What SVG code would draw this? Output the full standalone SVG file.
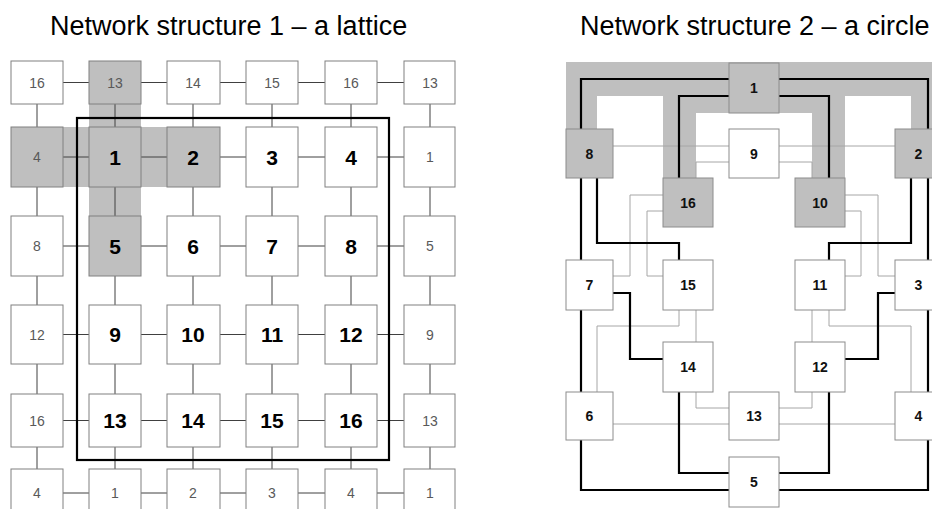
<svg xmlns="http://www.w3.org/2000/svg" width="932" height="509" viewBox="0 0 932 509">
<style>
.title{font-family:"Liberation Sans",Arial,sans-serif;font-size:27px;fill:#000}
.lb{fill:#fff;stroke:#808080;stroke-width:1}
.lg{fill:#bfbfbf;stroke:#808080;stroke-width:1}
.lo{font-family:"Liberation Sans",Arial,sans-serif;font-size:14px;fill:#595959;text-anchor:middle}
.li{font-family:"Liberation Sans",Arial,sans-serif;font-size:21px;font-weight:bold;fill:#000;text-anchor:middle}
.lc{stroke:#404040;stroke-width:1;fill:none}
.rb{fill:#fff;stroke:#8c8c8c;stroke-width:1}
.rg{fill:#bfbfbf;stroke:#8c8c8c;stroke-width:1}
.rt{font-family:"Liberation Sans",Arial,sans-serif;font-size:14px;font-weight:bold;fill:#111;text-anchor:middle}
.thick{stroke:#000;stroke-width:2.2;fill:none}
.thin{stroke:#a6a6a6;stroke-width:1;fill:none}
.band{fill:#bfbfbf}
</style>
<rect width="932" height="509" fill="#fff"/>
<text class="title" x="50" y="35">Network structure 1 – a lattice</text>
<text class="title" x="580" y="35">Network structure 2 – a circle</text>

<!-- Lattice highlight -->
<g id="lattice-highlight">
<rect class="band" x="89" y="61" width="52" height="215"/>
<rect class="band" x="11" y="127" width="209" height="60"/>
</g>

<!-- Lattice connectors -->
<g id="lattice-connectors" class="lc">
<path d="M63,82.5H89M141,82.5H167M220,82.5H246M298,82.5H325M377,82.5H404"/>
<path d="M63,157H89M141,157H167M220,157H246M298,157H325M377,157H404"/>
<path d="M63,246H89M141,246H167M220,246H246M298,246H325M377,246H404"/>
<path d="M63,334.5H89M141,334.5H167M220,334.5H246M298,334.5H325M377,334.5H404"/>
<path d="M63,420.5H89M141,420.5H167M220,420.5H246M298,420.5H325M377,420.5H404"/>
<path d="M63,493H89M141,493H167M220,493H246M298,493H325M377,493H404"/>
<path d="M37,104V127M115,104V127M193,104V127M272,104V127M351,104V127M430,104V127"/>
<path d="M37,187V216M115,187V216M193,187V216M272,187V216M351,187V216M430,187V216"/>
<path d="M37,276V305M115,276V305M193,276V305M272,276V305M351,276V305M430,276V305"/>
<path d="M37,364V394M115,364V394M193,364V394M272,364V394M351,364V394M430,364V394"/>
<path d="M37,447V469M115,447V469M193,447V469M272,447V469M351,447V469M430,447V469"/>
</g>

<!-- Lattice nodes: row 0 -->
<g id="L-r0c0"><rect class="lb" x="11" y="61" width="52" height="43"/><text class="lo" x="37" y="87.5">16</text></g>
<g id="L-r0c1"><rect class="lg" x="89" y="61" width="52" height="43"/><text class="lo" x="115" y="87.5">13</text></g>
<g id="L-r0c2"><rect class="lb" x="167" y="61" width="53" height="43"/><text class="lo" x="193" y="87.5">14</text></g>
<g id="L-r0c3"><rect class="lb" x="246" y="61" width="52" height="43"/><text class="lo" x="272" y="87.5">15</text></g>
<g id="L-r0c4"><rect class="lb" x="325" y="61" width="52" height="43"/><text class="lo" x="351" y="87.5">16</text></g>
<g id="L-r0c5"><rect class="lb" x="404" y="61" width="51" height="43"/><text class="lo" x="430" y="87.5">13</text></g>
<!-- row 1 -->
<g id="L-r1c0"><rect class="lg" x="11" y="127" width="52" height="60"/><text class="lo" x="37" y="162">4</text></g>
<g id="L-r1c1"><rect class="lg" x="89" y="127" width="52" height="60"/><text class="li" x="115" y="164.5">1</text></g>
<g id="L-r1c2"><rect class="lg" x="167" y="127" width="53" height="60"/><text class="li" x="193" y="164.5">2</text></g>
<g id="L-r1c3"><rect class="lb" x="246" y="127" width="52" height="60"/><text class="li" x="272" y="164.5">3</text></g>
<g id="L-r1c4"><rect class="lb" x="325" y="127" width="52" height="60"/><text class="li" x="351" y="164.5">4</text></g>
<g id="L-r1c5"><rect class="lb" x="404" y="127" width="51" height="60"/><text class="lo" x="430" y="162">1</text></g>
<!-- row 2 -->
<g id="L-r2c0"><rect class="lb" x="11" y="216" width="52" height="60"/><text class="lo" x="37" y="251">8</text></g>
<g id="L-r2c1"><rect class="lg" x="89" y="216" width="52" height="60"/><text class="li" x="115" y="253.5">5</text></g>
<g id="L-r2c2"><rect class="lb" x="167" y="216" width="53" height="60"/><text class="li" x="193" y="253.5">6</text></g>
<g id="L-r2c3"><rect class="lb" x="246" y="216" width="52" height="60"/><text class="li" x="272" y="253.5">7</text></g>
<g id="L-r2c4"><rect class="lb" x="325" y="216" width="52" height="60"/><text class="li" x="351" y="253.5">8</text></g>
<g id="L-r2c5"><rect class="lb" x="404" y="216" width="51" height="60"/><text class="lo" x="430" y="251">5</text></g>
<!-- row 3 -->
<g id="L-r3c0"><rect class="lb" x="11" y="305" width="52" height="59"/><text class="lo" x="37" y="339.5">12</text></g>
<g id="L-r3c1"><rect class="lb" x="89" y="305" width="52" height="59"/><text class="li" x="115" y="342">9</text></g>
<g id="L-r3c2"><rect class="lb" x="167" y="305" width="53" height="59"/><text class="li" x="193" y="342">10</text></g>
<g id="L-r3c3"><rect class="lb" x="246" y="305" width="52" height="59"/><text class="li" x="272" y="342">11</text></g>
<g id="L-r3c4"><rect class="lb" x="325" y="305" width="52" height="59"/><text class="li" x="351" y="342">12</text></g>
<g id="L-r3c5"><rect class="lb" x="404" y="305" width="51" height="59"/><text class="lo" x="430" y="339.5">9</text></g>
<!-- row 4 -->
<g id="L-r4c0"><rect class="lb" x="11" y="394" width="52" height="53"/><text class="lo" x="37" y="425.5">16</text></g>
<g id="L-r4c1"><rect class="lb" x="89" y="394" width="52" height="53"/><text class="li" x="115" y="428">13</text></g>
<g id="L-r4c2"><rect class="lb" x="167" y="394" width="53" height="53"/><text class="li" x="193" y="428">14</text></g>
<g id="L-r4c3"><rect class="lb" x="246" y="394" width="52" height="53"/><text class="li" x="272" y="428">15</text></g>
<g id="L-r4c4"><rect class="lb" x="325" y="394" width="52" height="53"/><text class="li" x="351" y="428">16</text></g>
<g id="L-r4c5"><rect class="lb" x="404" y="394" width="51" height="53"/><text class="lo" x="430" y="425.5">13</text></g>
<!-- row 5 -->
<g id="L-r5c0"><rect class="lb" x="11" y="469" width="52" height="50"/><text class="lo" x="37" y="498">4</text></g>
<g id="L-r5c1"><rect class="lb" x="89" y="469" width="52" height="50"/><text class="lo" x="115" y="498">1</text></g>
<g id="L-r5c2"><rect class="lb" x="167" y="469" width="53" height="50"/><text class="lo" x="193" y="498">2</text></g>
<g id="L-r5c3"><rect class="lb" x="246" y="469" width="52" height="50"/><text class="lo" x="272" y="498">3</text></g>
<g id="L-r5c4"><rect class="lb" x="325" y="469" width="52" height="50"/><text class="lo" x="351" y="498">4</text></g>
<g id="L-r5c5"><rect class="lb" x="404" y="469" width="51" height="50"/><text class="lo" x="430" y="498">1</text></g>

<g id="lattice-frame"><rect x="77" y="118" width="312" height="342" fill="none" stroke="#000" stroke-width="2.2"/></g>

<!-- Circle: gray band -->
<g id="circle-band" class="band">
<rect x="566" y="62" width="380" height="34"/>
<rect x="566" y="96" width="31" height="33"/>
<rect x="911" y="96" width="31" height="33"/>
<rect x="663" y="96" width="182" height="17"/>
<rect x="663" y="113" width="33" height="65"/>
<rect x="812" y="113" width="33" height="65"/>
</g>

<!-- Circle connectors -->
<g id="circle-connectors">
<g class="thin">
<path d="M613,146H729"/>
<path d="M779,146H895"/>
<path d="M729,162H696V178"/>
<path d="M779,162H812V178"/>
<path d="M663,195H630V276H613"/>
<path d="M663,211H647V276H663"/>
<path d="M845,195H878V276H895"/>
<path d="M845,211H861V276H845"/>
<path d="M679,310V326H597V392"/>
<path d="M696,310V342"/>
<path d="M829,310V326H911V392"/>
<path d="M812,310V342"/>
<path d="M696,392V408H729"/>
<path d="M812,392V408H779"/>
<path d="M613,424H729"/>
<path d="M779,424H895"/>
</g>
<g class="thick">
<path d="M729,79H581V129"/>
<path d="M729,96H679V178"/>
<path d="M779,79H928V129"/>
<path d="M779,96H829V178"/>
<path d="M581,178V260"/>
<path d="M597,178V243H679V260"/>
<path d="M928,178V260"/>
<path d="M911,178V243H829V260"/>
<path d="M613,293H630V359H663"/>
<path d="M895,293H878V359H845"/>
<path d="M581,310V392"/>
<path d="M928,310V392"/>
<path d="M679,392V473H729"/>
<path d="M829,392V473H779"/>
<path d="M581,440V490H729"/>
<path d="M928,440V490H779"/>
</g>
</g>

<!-- Circle nodes -->
<g id="C1"><rect class="rg" x="729" y="63" width="50" height="50"/><text class="rt" x="754" y="93">1</text></g>
<g id="C8"><rect class="rg" x="566" y="129" width="47" height="49"/><text class="rt" x="589.5" y="158.5">8</text></g>
<g id="C9"><rect class="rb" x="729" y="129" width="50" height="49"/><text class="rt" x="754" y="158.5">9</text></g>
<g id="C2"><rect class="rg" x="895" y="129" width="47" height="49"/><text class="rt" x="918.5" y="158.5">2</text></g>
<g id="C16"><rect class="rg" x="663" y="178" width="50" height="49"/><text class="rt" x="688" y="207.5">16</text></g>
<g id="C10"><rect class="rg" x="795" y="178" width="50" height="49"/><text class="rt" x="820" y="207.5">10</text></g>
<g id="C7"><rect class="rb" x="566" y="260" width="47" height="50"/><text class="rt" x="589.5" y="290">7</text></g>
<g id="C15"><rect class="rb" x="663" y="260" width="50" height="50"/><text class="rt" x="688" y="290">15</text></g>
<g id="C11"><rect class="rb" x="795" y="260" width="50" height="50"/><text class="rt" x="820" y="290">11</text></g>
<g id="C3"><rect class="rb" x="895" y="260" width="47" height="50"/><text class="rt" x="918.5" y="290">3</text></g>
<g id="C14"><rect class="rb" x="663" y="342" width="50" height="50"/><text class="rt" x="688" y="372">14</text></g>
<g id="C12"><rect class="rb" x="795" y="342" width="50" height="50"/><text class="rt" x="820" y="372">12</text></g>
<g id="C6"><rect class="rb" x="566" y="392" width="47" height="48"/><text class="rt" x="589.5" y="421">6</text></g>
<g id="C13"><rect class="rb" x="729" y="392" width="50" height="48"/><text class="rt" x="754" y="421">13</text></g>
<g id="C4"><rect class="rb" x="895" y="392" width="47" height="48"/><text class="rt" x="918.5" y="421">4</text></g>
<g id="C5"><rect class="rb" x="729" y="457" width="50" height="50"/><text class="rt" x="754" y="487">5</text></g>
</svg>
